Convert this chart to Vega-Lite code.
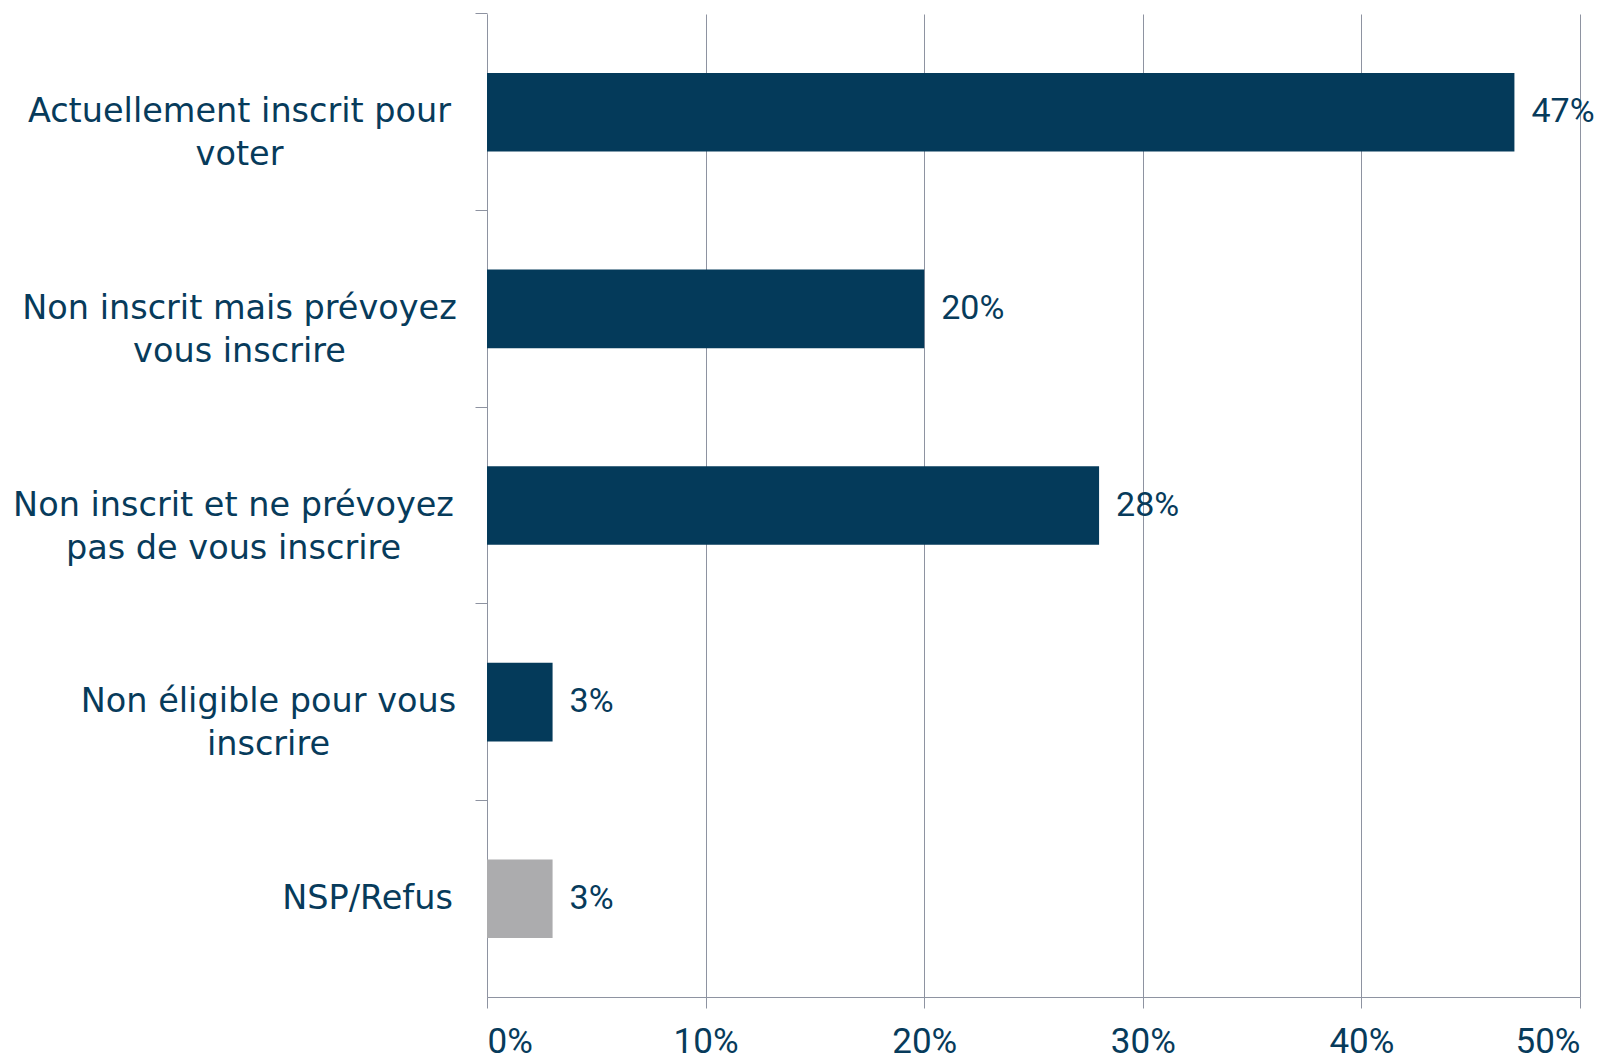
{
  "$schema": "https://vega.github.io/schema/vega-lite/v6.json",
  "width": 1093,
  "height": 983,
  "autosize": {"type": "none"},
  "padding": {"left": 487, "top": 14, "right": 34, "bottom": 61},
  "background": "white",
  "config": {"view": {"stroke": null}},
  "data": {
    "values": [
      {"reponse": "Actuellement inscrit pour voter", "pct": 0.47},
      {"reponse": "Non inscrit mais prévoyez vous inscrire", "pct": 0.20},
      {"reponse": "Non inscrit et ne prévoyez pas de vous inscrire", "pct": 0.28},
      {"reponse": "Non éligible pour vous inscrire", "pct": 0.03},
      {"reponse": "NSP/Refus", "pct": 0.03}
    ]
  },
  "encoding": {
    "y": {
      "field": "reponse",
      "type": "nominal",
      "sort": null,
      "title": null,
      "scale": {"paddingInner": 0.6, "paddingOuter": 0.3},
      "axis": {
        "bandPosition": -0.75,
        "tickSize": 12,
        "tickColor": "#8e93a1",
        "domainColor": "#8e93a1",
        "labelPadding": {
          "condition": [
            {"test": "datum.value == 'Actuellement inscrit pour voter'", "value": 236},
            {"test": "datum.value == 'Non inscrit mais prévoyez vous inscrire'", "value": 236},
            {"test": "datum.value == 'Non inscrit et ne prévoyez pas de vous inscrire'", "value": 242},
            {"test": "datum.value == 'Non éligible pour vous inscrire'", "value": 207}
          ],
          "value": 108
        },
        "labelFont": "DejaVu Sans",
        "labelFontSize": 33.5,
        "labelColor": "#073b5b",
        "labelLineHeight": 43,
        "labelLimit": 480,
        "labelAlign": "center",
        "labelBaseline": "middle",
        "labelExpr": "datum.value == 'Actuellement inscrit pour voter' ? ['Actuellement inscrit pour', 'voter'] : datum.value == 'Non inscrit mais prévoyez vous inscrire' ? ['Non inscrit mais prévoyez', 'vous inscrire'] : datum.value == 'Non inscrit et ne prévoyez pas de vous inscrire' ? ['Non inscrit et ne prévoyez', 'pas de vous inscrire'] : datum.value == 'Non éligible pour vous inscrire' ? ['Non éligible pour vous', 'inscrire'] : datum.value"
      }
    },
    "x": {
      "field": "pct",
      "type": "quantitative",
      "title": null,
      "scale": {"domain": [0, 0.5], "nice": false},
      "axis": {
        "values": [0, 0.1, 0.2, 0.3, 0.4, 0.5],
        "format": ".0%",
        "grid": true,
        "gridColor": "#8e93a1",
        "gridOpacity": 1,
        "tickColor": "#8e93a1",
        "tickSize": 11,
        "domainColor": "#8e93a1",
        "labelPadding": 44,
        "labelFont": "Roboto",
        "labelFontSize": 35,
        "labelColor": "#073b5b",
        "labelBaseline": "alphabetic"
      }
    }
  },
  "layer": [
    {
      "mark": {"type": "bar"},
      "encoding": {
        "color": {
          "condition": {"test": "datum.reponse == 'NSP/Refus'", "value": "#acacae"},
          "value": "#043a5a"
        }
      }
    },
    {
      "mark": {
        "type": "text",
        "align": "left",
        "baseline": "middle",
        "dx": 17,
        "font": "Roboto",
        "fontSize": 34,
        "color": "#073b5b"
      },
      "encoding": {
        "text": {"field": "pct", "type": "quantitative", "format": ".0%"}
      }
    }
  ]
}
